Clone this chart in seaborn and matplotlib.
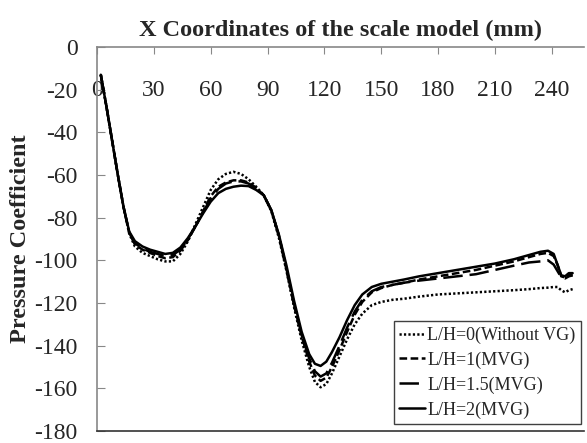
import numpy as np
import pandas as pd
import matplotlib
matplotlib.use("Agg")
import matplotlib.pyplot as plt
import seaborn as sns

# Streamwise position along the scale model (mm)
x_mm = [2, 5, 8, 11, 14, 17, 20, 24, 28, 32, 36, 40, 44, 48, 52, 56, 60, 64, 68,
        72, 76, 80, 84, 88, 92, 96, 100, 104, 108, 112, 115, 118, 121, 124, 128,
        132, 136, 140, 145, 150, 156, 162, 170, 180, 190, 200, 210, 220, 228, 234,
        238, 241, 243, 245, 247, 249, 251]

# Pressure coefficient for each vortex-generator spacing
cp_lh0 = [-13, -28, -44, -60, -75, -87.5, -93.5, -96.5, -98, -99.5, -100.5, -100.5, -97,
          -91, -83, -75, -67, -62, -59.5, -58.5, -59.5, -62, -65.5, -69.5, -77, -89.5, -105,
          -122, -137.5, -150, -157, -159.5, -158, -153, -145, -137, -130, -125, -121,
          -119.5, -118.5, -118, -117, -116, -115.5, -115, -114.5, -114, -113.5, -113,
          -112.8, -112.5, -112.5, -114, -115, -114, -113.5]
cp_lh1 = [-13, -28, -44, -60, -75, -87, -92.5, -95, -96.5, -98, -99, -98.5, -95.5,
          -90.5, -84, -77, -70, -65.5, -63.5, -62.5, -62.5, -63.5, -66, -69.5, -76.5,
          -88.5, -104.5, -121, -135.5, -147.5, -154, -156.5, -155, -150, -142, -133.5,
          -125.5, -119.5, -115, -113, -111.5, -110.5, -109, -107.5, -106, -104.5,
          -102.5, -100.5, -98.5, -97, -96.5, -98, -102, -107.5, -108, -107, -107]
cp_lh15 = [-13, -28, -44, -60, -75, -87, -92, -94.5, -96, -97, -98, -97.5, -95,
           -90, -84, -77.5, -71, -66.5, -64, -63, -63, -64, -66.5, -69.5, -76.5, -88.5,
           -104, -120.5, -135, -146, -152, -154.5, -153, -148, -140, -131.5, -124,
           -118.5, -114.5, -112.5, -111.5, -110.5, -109.5, -108.5, -107.5, -106.5,
           -104.5, -102.5, -101, -100.5, -100, -102, -105, -108, -108.5, -107.5, -107]
cp_lh2 = [-13, -28, -44, -60, -75, -86.5, -91, -93.5, -95, -96, -97, -96.5, -94,
          -89.5, -84, -78, -72.5, -68.5, -66.5, -65.5, -65, -65.2, -67, -69.5, -76.5,
          -88, -102.5, -119, -133.5, -144, -148.5, -149.5, -147.5, -143, -136, -128, -121,
          -116, -112.5, -111, -110, -109, -107.5, -106, -104.5, -103, -101.5, -99.5,
          -97.5, -96, -95.5, -97, -102, -107, -107.5, -106, -106]

labels = ["L/H=0(Without VG)", "L/H=1(MVG)", "L/H=1.5(MVG)", "L/H=2(MVG)"]
x_ticks = [0, 30, 60, 90, 120, 150, 180, 210, 240]
y_ticks = [0, -20, -40, -60, -80, -100, -120, -140, -160, -180]

sns.set_theme(style="white")
plt.rcParams["font.family"] = ["Liberation Serif", "DejaVu Serif"]
plt.rcParams["lines.scale_dashes"] = False

df = pd.DataFrame({
    "x": x_mm * 4,
    "cp": cp_lh0 + cp_lh1 + cp_lh15 + cp_lh2,
    "case": [lab for lab in labels for _ in x_mm],
})

styles = {
    labels[0]: (0, (1.6, 1.6)),
    labels[1]: (0, (5.5, 2.5)),
    labels[2]: (0, (14, 5)),
    labels[3]: "-",
}

fig = plt.figure(figsize=(5.87, 4.43), dpi=100)
ax = fig.add_axes([97 / 587, 1 - 431 / 443, (584 - 97) / 587, (431 - 47) / 443])

for lab in labels:
    sub = df[df["case"] == lab]
    sns.lineplot(data=sub, x="x", y="cp", ax=ax, color="black", linewidth=1.8,
                 linestyle=styles[lab], label=lab, sort=False, estimator=None)

ax.set_xlim(0, 257)
ax.set_ylim(-180, 0)
ax.set_xticks(x_ticks)
ax.set_yticks(y_ticks)
ax.set_xticklabels([str(v) for v in x_ticks])
ax.set_yticklabels([str(v) for v in y_ticks])

ax.xaxis.tick_top()
ax.xaxis.set_label_position("top")
ax.tick_params(axis="x", which="both", top=True, bottom=False, labeltop=True,
               labelbottom=False, direction="in", length=5, width=0.8,
               color="#888888", pad=-39, labelsize=17)
ax.tick_params(axis="y", which="both", left=True, direction="in", length=6,
               width=0.8, color="#888888", pad=14, labelsize=17)

for side in ["left", "top"]:
    ax.spines[side].set_color("#888888")
    ax.spines[side].set_linewidth(1.2)
ax.spines["right"].set_visible(False)
ax.spines["bottom"].set_color("#333333")
ax.spines["bottom"].set_linewidth(1.2)

ax.set_xlabel("X Coordinates of the scale model (mm)", fontsize=17.5,
              fontweight="bold", labelpad=8)
ax.set_ylabel("Pressure Coefficient", fontsize=17.5, fontweight="bold", labelpad=2)

leg = ax.legend(loc="lower right", bbox_to_anchor=(0.9938, 0.0182), fontsize=13,
                frameon=True, fancybox=False, framealpha=1, edgecolor="#404040",
                handlelength=1.45, handletextpad=0.12, borderpad=0.3,
                labelspacing=0.42, borderaxespad=0)
leg.get_frame().set_linewidth(1.0)

fig.savefig("out.png", dpi=100)
